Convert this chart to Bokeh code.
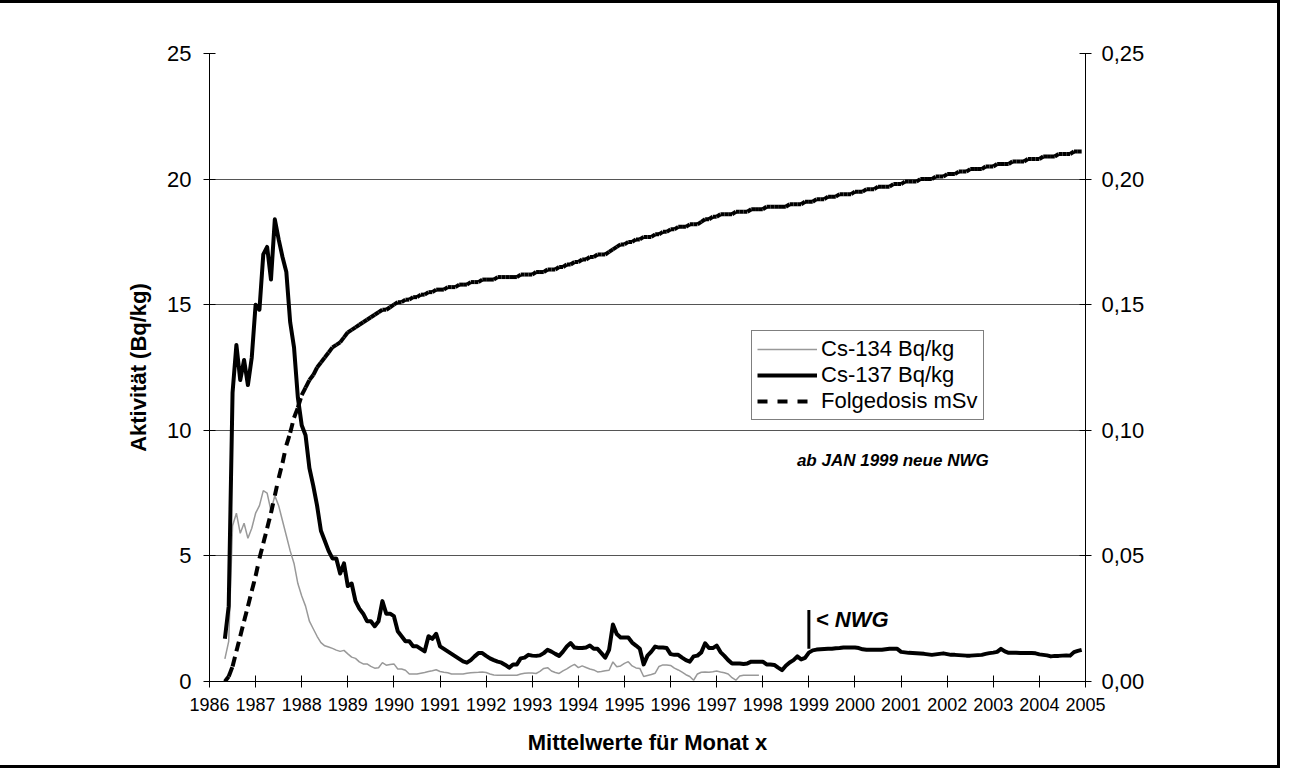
import math
from bokeh.plotting import figure
from bokeh.models import (Range1d, LinearAxis, Legend, LegendItem, Label,
                          FixedTicker, CustomJSTickFormatter, ColumnDataSource)
from bokeh.embed import file_html
from bokeh.resources import INLINE

# ---------------- data (monthly means, first month = May 1986) ----------------
START_YEAR = 1986
START_MONTH = 5

cs134 = [0.9, 1.6, 6.2, 6.7, 5.9, 6.3, 5.7, 6.1, 6.7, 7.0, 7.6, 7.5, 6.8, 7.4, 7.0, 6.4,
         5.8, 5.2, 4.7, 3.9, 3.4, 3.0, 2.4, 2.1, 1.8, 1.55, 1.42, 1.37, 1.32, 1.25, 1.2, 1.24,
         1.1, 0.97, 0.92, 0.78, 0.7, 0.7, 0.6, 0.53, 0.55, 0.75, 0.65, 0.68, 0.7, 0.5, 0.5, 0.45,
         0.3, 0.3, 0.3, 0.33, 0.36, 0.4, 0.43, 0.47, 0.4, 0.37, 0.35, 0.3, 0.3, 0.3, 0.3, 0.33,
         0.35, 0.36, 0.37, 0.38, 0.36, 0.3, 0.26, 0.25, 0.25, 0.25, 0.25, 0.25, 0.25, 0.3, 0.33, 0.34,
         0.34, 0.32, 0.4, 0.52, 0.55, 0.42, 0.36, 0.32, 0.42, 0.5, 0.6, 0.68, 0.55, 0.62, 0.56, 0.5,
         0.46, 0.38, 0.4, 0.43, 0.45, 0.78, 0.59, 0.62, 0.72, 0.79, 0.62, 0.54, 0.52, 0.2, 0.24, 0.28,
         0.33, 0.6, 0.66, 0.66, 0.64, 0.53, 0.46, 0.37, 0.27, 0.2, 0.05, 0.3, 0.37, 0.38, 0.37, 0.39,
         0.42, 0.38, 0.35, 0.3, 0.15, 0.05, 0.22, 0.25, 0.25, 0.25, 0.25, 0.25]

cs137 = [1.7, 3.0, 11.5, 13.4, 12.0, 12.8, 11.8, 12.9, 15.0, 14.8, 17.0, 17.3, 16.0, 18.4, 17.6, 16.9,
         16.3, 14.3, 13.3, 11.3, 10.2, 9.8, 8.5, 7.8, 7.0, 6.0, 5.6, 5.2, 4.9, 4.9, 4.3, 4.7,
         3.8, 3.9, 3.2, 2.9, 2.7, 2.4, 2.4, 2.2, 2.4, 3.2, 2.7, 2.7, 2.6, 2.0, 1.8, 1.6,
         1.6, 1.4, 1.4, 1.3, 1.2, 1.8, 1.7, 1.9, 1.4, 1.3, 1.2, 1.1, 1.0, 0.9, 0.8, 0.75,
         0.85, 1.0, 1.13, 1.13, 1.02, 0.92, 0.85, 0.79, 0.75, 0.66, 0.55, 0.68, 0.68, 0.92, 0.95, 1.06,
         1.03, 1.02, 1.04, 1.13, 1.26, 1.19, 1.1, 1.02, 1.19, 1.39, 1.53, 1.35, 1.33, 1.33, 1.35, 1.43,
         1.3, 1.3, 1.13, 0.95, 1.26, 2.27, 1.89, 1.75, 1.75, 1.75, 1.55, 1.43, 1.3, 0.68, 1.03, 1.19,
         1.39, 1.35, 1.35, 1.33, 1.09, 1.06, 1.06, 0.95, 0.85, 0.79, 1.0, 1.03, 1.16, 1.52, 1.33, 1.33,
         1.43, 1.17, 1.02, 0.85, 0.72, 0.72, 0.72, 0.7, 0.72, 0.79, 0.79, 0.79, 0.79, 0.68, 0.68, 0.66,
         0.55, 0.45, 0.63, 0.76, 0.85, 1.0, 0.88, 0.94, 1.15, 1.24, 1.27, 1.28, 1.29, 1.3, 1.3, 1.32,
         1.33, 1.35, 1.35, 1.35, 1.35, 1.33, 1.28, 1.26, 1.26, 1.26, 1.26, 1.26, 1.28, 1.3, 1.3, 1.3,
         1.18, 1.16, 1.14, 1.13, 1.12, 1.11, 1.1, 1.08, 1.06, 1.08, 1.1, 1.12, 1.09, 1.06, 1.06, 1.05,
         1.04, 1.03, 1.03, 1.04, 1.05, 1.06, 1.1, 1.13, 1.15, 1.18, 1.3, 1.2, 1.14, 1.14, 1.14, 1.13,
         1.13, 1.13, 1.13, 1.12, 1.08, 1.06, 1.04, 1.0, 1.02, 1.02, 1.03, 1.04, 1.03, 1.17, 1.22, 1.26]

dose = [0.000, 0.002, 0.006, 0.012, 0.018, 0.024, 0.030, 0.036, 0.042, 0.049, 0.055, 0.061,
        0.067, 0.074, 0.081, 0.087, 0.094, 0.099, 0.105, 0.109, 0.114, 0.117, 0.120, 0.122,
        0.125, 0.127, 0.129, 0.131, 0.133, 0.134, 0.135, 0.137, 0.139, 0.140, 0.141, 0.142,
        0.143, 0.144, 0.145, 0.146, 0.147, 0.148, 0.148, 0.149, 0.150, 0.151, 0.151, 0.152,
        0.152, 0.153, 0.153, 0.154, 0.154, 0.155, 0.155, 0.156, 0.156, 0.156, 0.157, 0.157,
        0.157, 0.158, 0.158, 0.158, 0.159, 0.159, 0.159, 0.160, 0.160, 0.160, 0.160, 0.161,
        0.161, 0.161, 0.161, 0.161, 0.161, 0.162, 0.162, 0.162, 0.162, 0.163, 0.163, 0.163,
        0.164, 0.164, 0.164, 0.165, 0.165, 0.166, 0.166, 0.167, 0.167, 0.168, 0.168, 0.169,
        0.169, 0.170, 0.170, 0.170, 0.171, 0.172, 0.173, 0.174, 0.174, 0.175, 0.175, 0.176,
        0.176, 0.177, 0.177, 0.177, 0.178, 0.178, 0.179, 0.179, 0.180, 0.180, 0.181, 0.181,
        0.181, 0.182, 0.182, 0.182, 0.183, 0.184, 0.184, 0.185, 0.185, 0.186, 0.186, 0.186,
        0.186, 0.187, 0.187, 0.187, 0.187, 0.188, 0.188, 0.188, 0.188, 0.189, 0.189, 0.189,
        0.189, 0.189, 0.189, 0.190, 0.190, 0.190, 0.190, 0.191, 0.191, 0.191, 0.192, 0.192,
        0.192, 0.193, 0.193, 0.193, 0.194, 0.194, 0.194, 0.194, 0.195, 0.195, 0.195, 0.196,
        0.196, 0.196, 0.197, 0.197, 0.197, 0.197, 0.198, 0.198, 0.198, 0.199, 0.199, 0.199,
        0.199, 0.200, 0.200, 0.200, 0.200, 0.201, 0.201, 0.201, 0.202, 0.202, 0.202, 0.203,
        0.203, 0.203, 0.204, 0.204, 0.204, 0.204, 0.205, 0.205, 0.205, 0.206, 0.206, 0.206,
        0.206, 0.207, 0.207, 0.207, 0.207, 0.208, 0.208, 0.208, 0.208, 0.209, 0.209, 0.209,
        0.209, 0.210, 0.210, 0.210, 0.210, 0.211, 0.211, 0.211]

year_ticks = list(range(1986, 2006))
activity_ticks = [0, 5, 10, 15, 20, 25]
dose_ticks = [0.0, 0.05, 0.10, 0.15, 0.20, 0.25]

NWG_YEAR = 1999
NWG_MARK = (1.3, 2.85)

labels = {
    "cs134": "Cs-134 Bq/kg",
    "cs137": "Cs-137 Bq/kg",
    "dose": "Folgedosis mSv",
    "y_left": "Aktivität (Bq/kg)",
    "y_right": "Folgedosis (mSv)",
    "x": "Mittelwerte für Monat x",
    "note": "ab JAN 1999 neue NWG",
    "nwg": "< NWG",
}

FONT = "Liberation Sans"


def month_pos(i):
    return START_YEAR + (START_MONTH - 1 + i) / 12.0


x137 = [month_pos(i) for i in range(len(cs137))]
x134 = [month_pos(i) for i in range(len(cs134))]
xd = [month_pos(i) for i in range(len(dose))]

p = figure(width=1277, height=762, output_backend="svg", toolbar_location=None,
           x_range=Range1d(1986, 2005), y_range=Range1d(0, 25),
           min_border_left=209, min_border_right=198, min_border_top=50, min_border_bottom=90)
p.styles = {"border": "3px solid black", "box-sizing": "content-box",
            "margin-left": "-3px", "margin-bottom": "-10px"}
p.extra_y_ranges = {"dose": Range1d(0, 0.25)}
p.outline_line_color = None
p.background_fill_color = "white"
p.border_fill_color = "white"

# grid
p.xgrid.grid_line_color = None
p.ygrid.ticker = FixedTicker(ticks=activity_ticks)
p.ygrid.grid_line_color = "#555555"
p.ygrid.grid_line_width = 1

# lines
r134 = p.line(x134, cs134, line_color="#999999", line_width=1.5)
r137 = p.line(x137, cs137, line_color="black", line_width=4, line_join="round")
seg = ColumnDataSource(dict(x0=xd[:-1], x1=xd[1:], y0=dose[:-1], y1=dose[1:]))
rdose = p.segment(x0="x0", y0="y0", x1="x1", y1="y1", source=seg, y_range_name="dose",
                  line_color="black", line_width=4, line_dash="10 10", line_cap="butt")

# NWG marker
p.segment(x0=[NWG_YEAR], y0=[NWG_MARK[0]], x1=[NWG_YEAR], y1=[NWG_MARK[1]],
          line_color="black", line_width=3)

# axes
xa = p.xaxis[0]
xa.ticker = FixedTicker(ticks=year_ticks)
xa.formatter = CustomJSTickFormatter(code="return tick.toFixed(0)")
ya = p.yaxis[0]
ya.ticker = FixedTicker(ticks=activity_ticks)
ya.formatter = CustomJSTickFormatter(code="return tick.toFixed(0)")
ra = LinearAxis(y_range_name="dose")
ra.ticker = FixedTicker(ticks=dose_ticks)
ra.formatter = CustomJSTickFormatter(code="return tick.toFixed(2).replace('.', ',')")
p.add_layout(ra, "right")

for ax in (xa, ya, ra):
    ax.axis_line_color = "black"
    ax.axis_line_width = 1
    ax.major_tick_line_color = "black"
    ax.major_tick_in = 6
    ax.major_tick_out = 6
    ax.minor_tick_line_color = None
    ax.major_label_text_font = FONT
    ax.major_label_text_color = "black"
    ax.axis_label_text_font = FONT
    ax.axis_label_text_font_style = "bold"
    ax.axis_label_text_font_size = "22px"
    ax.axis_label_text_color = "black"

xa.major_label_text_font_size = "18px"
xa.major_label_standoff = 10
xa.axis_label = labels["x"]
xa.axis_label_standoff = 16
ya.major_label_text_font_size = "22px"
ya.major_label_standoff = 12
ya.axis_label = labels["y_left"]
ya.axis_label_standoff = 13
ra.major_label_text_font_size = "22px"
ra.major_label_standoff = 10

p.add_layout(Label(x=2007.1, y=12.5, text=labels["y_right"], angle=math.pi / 2,
                   text_align="center", text_baseline="middle", text_font=FONT,
                   text_font_size="22px", text_font_style="bold", text_color="black"))

# annotations
p.add_layout(Label(x=2002.9, y=8.8, text=labels["note"], text_align="right",
                   text_baseline="middle", text_font=FONT, text_font_size="17px",
                   text_font_style="bold italic", text_color="black"))
p.add_layout(Label(x=1999.15, y=2.45, text=labels["nwg"], text_align="left",
                   text_baseline="middle", text_font=FONT, text_font_size="22px",
                   text_font_style="bold italic", text_color="black"))

legend = Legend(items=[LegendItem(label=labels["cs134"], renderers=[r134]),
                       LegendItem(label=labels["cs137"], renderers=[r137]),
                       LegendItem(label=labels["dose"], renderers=[rdose])],
                location=(542, 261))
legend.label_text_font = FONT
legend.label_text_font_size = "22px"
legend.label_text_color = "black"
legend.border_line_color = "black"
legend.border_line_width = 1
legend.background_fill_color = "white"
legend.background_fill_alpha = 1
legend.glyph_width = 60
legend.glyph_height = 26
legend.label_height = 26
legend.spacing = 0
legend.padding = 5
legend.margin = 0
legend.label_standoff = 4
p.add_layout(legend)

open("out.html", "w").write(file_html(p, INLINE))
